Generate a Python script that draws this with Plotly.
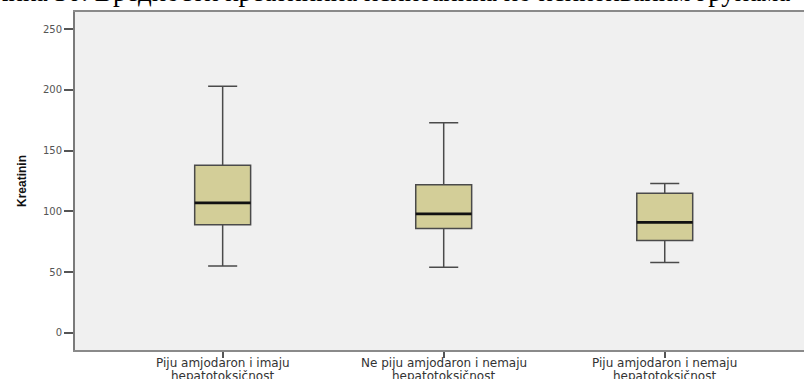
import plotly.graph_objects as go

# Kreatinin by patient group (box-plot summary statistics)
group_line1 = ["Piju amjodaron i imaju", "Ne piju amjodaron i nemaju", "Piju amjodaron i nemaju"]
group_line2 = ["hepatotoksičnost", "hepatotoksičnost", "hepatotoksičnost"]
lower_whisker = [55, 54, 58]
q1_values = [89, 86, 76]
median_values = [107, 98, 91]
q3_values = [138, 122, 115]
upper_whisker = [203, 173, 123]
y_ticks = [0, 50, 100, 150, 200, 250]

positions = list(range(len(group_line1)))
BOX_W = 0.253

fig = go.Figure()
fig.add_trace(go.Box(
    x=positions,
    q1=q1_values,
    median=median_values,
    q3=q3_values,
    lowerfence=lower_whisker,
    upperfence=upper_whisker,
    width=BOX_W,
    whiskerwidth=0.52,
    fillcolor="#D3CE98",
    line=dict(color="#4a4a4a", width=1.5),
    boxpoints=False,
    showlegend=False,
))

# darker, heavier median bars drawn over the boxes
mx, my = [], []
for p, m in zip(positions, median_values):
    mx += [p - BOX_W / 2, p + BOX_W / 2, None]
    my += [m, m, None]
fig.add_trace(go.Scatter(x=mx, y=my, mode="lines",
                         line=dict(color="#111111", width=2.6),
                         hoverinfo="skip", showlegend=False))

# two-line category labels under the axis
for p, l1, l2 in zip(positions, group_line1, group_line2):
    for txt, shift in ((l1, -13), (l2, -26)):
        fig.add_annotation(x=p, xref="x", y=0, yref="paper", text=txt,
                           showarrow=False, yanchor="middle", yshift=shift,
                           font=dict(family="DejaVu Sans", size=12, color="#333333"))

# figure caption above the chart
fig.add_annotation(
    x=0, xref="paper", y=1, yref="paper", xanchor="left", yanchor="bottom",
    xshift=-100, yshift=3, showarrow=False,
    text="Слика 30. Вредности креатинина испитаника по испитиваним групама",
    font=dict(family="Liberation Serif", size=27, color="#000000"),
)

fig.update_layout(
    width=804, height=379,
    margin=dict(l=75, r=0, t=12, b=29),
    paper_bgcolor="#ffffff",
    plot_bgcolor="#F0F0F0",
    xaxis=dict(
        range=[-0.668, 2.63],
        tickvals=positions, ticktext=["", "", ""],
        ticks="outside", ticklen=6, tickcolor="#555555", tickwidth=1.5,
        showgrid=False, zeroline=False,
        showline=True, linecolor="#8a8a8a", linewidth=2, mirror=True,
    ),
    yaxis=dict(
        range=[-14, 264],
        tickvals=y_ticks,
        ticks="outside", ticklen=9, tickcolor="#555555", tickwidth=1.5,
        tickfont=dict(family="DejaVu Sans", size=10, color="#555555"),
        showgrid=False, zeroline=False,
        showline=True, linecolor="#7a7a7a", linewidth=2,
        title=dict(text="<b>Kreatinin</b>", standoff=14,
                   font=dict(family="Liberation Sans", size=12, color="#111111")),
    ),
)

fig.write_html("out.html")
